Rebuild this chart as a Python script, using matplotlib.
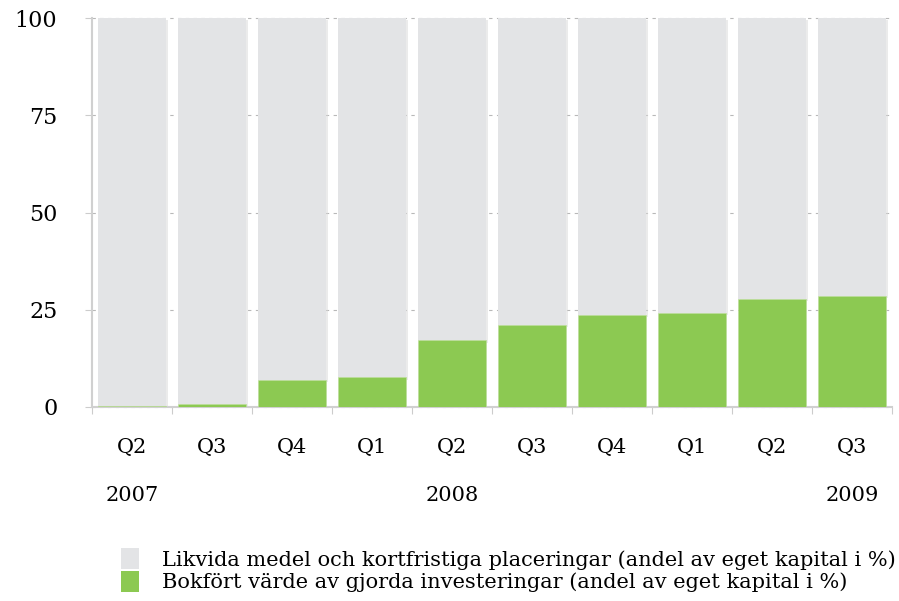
import matplotlib
matplotlib.use("Agg")
import matplotlib.pyplot as plt
from matplotlib.patches import Rectangle
import numpy as np

quarters = ["Q2", "Q3", "Q4", "Q1", "Q2", "Q3", "Q4", "Q1", "Q2", "Q3"]
years = ["2007", "", "", "", "2008", "", "", "", "", "2009"]
invest = [0.3, 0.7, 6.9, 7.6, 17.1, 21.0, 23.6, 24.1, 27.8, 28.6]
liquid = [100 - v for v in invest]
yticks = [0, 25, 50, 75, 100]
legend_labels = ["Likvida medel och kortfristiga placeringar (andel av eget kapital i %)",
                 "Bokfört värde av gjorda investeringar (andel av eget kapital i %)"]

grey = "#e3e4e6"
green = "#8cc952"
plt.rcParams['font.family'] = ['DejaVu Serif']

fig = plt.figure(figsize=(8.99, 6.01), dpi=100)
ax = fig.add_axes([92/899, 1 - 406.7/601, 800/899, 388.4/601])
x = np.arange(len(quarters))
w = 0.85
ax.set_xlim(-0.5, len(quarters) - 0.5)
ax.set_ylim(0, 100)

for i in x:
    ax.add_patch(Rectangle((i - w/2 + 0.03, invest[i] - 0.6), w, liquid[i] + 0.2,
                           facecolor="#d8d8d8", edgecolor="none", alpha=0.5, zorder=1))
ax.bar(x, liquid, bottom=invest, width=w, color=grey, zorder=2)
ax.bar(x, invest, width=w, color=green, zorder=3, edgecolor="#bcdc9a", linewidth=0.5)

for yv in yticks:
    ax.axhline(yv, color="#b8b8b8", lw=0.8, ls=(0, (3, 4)), zorder=0, clip_on=False)

for s in ["top", "right"]:
    ax.spines[s].set_visible(False)
ax.spines["left"].set_color("#d0d0d0")
ax.spines["left"].set_linewidth(1.5)
ax.spines["bottom"].set_color("#d0d0d0")
ax.spines["bottom"].set_linewidth(1.5)
ax.set_yticks(yticks)
ax.set_yticklabels([str(v) for v in yticks], fontsize=16)
ax.tick_params(axis="y", length=5, color="#cccccc", pad=20)
ax.set_xticks(np.arange(-0.5, len(quarters)))
ax.set_xticklabels([])
ax.tick_params(axis="x", length=5, color="#cccccc", direction="out")

for i in x:
    ax.text(i, -10.5, quarters[i], ha="center", va="center", fontsize=15,
            clip_on=False)
    if years[i]:
        ax.text(i, -22.8, years[i], ha="center", va="center", fontsize=15,
                clip_on=False)

handles = [Rectangle((0, 0), 1, 1, facecolor=grey, edgecolor="none"),
           Rectangle((0, 0), 1, 1, facecolor=green, edgecolor="none")]
fig.legend(handles, legend_labels, loc="lower left", bbox_to_anchor=(106/899, -0.01),
           frameon=False, fontsize=15, handlelength=0.9, handleheight=1.2,
           labelspacing=0.05, handletextpad=1.1, borderpad=0.2)

fig.savefig("out.png", dpi=100)
